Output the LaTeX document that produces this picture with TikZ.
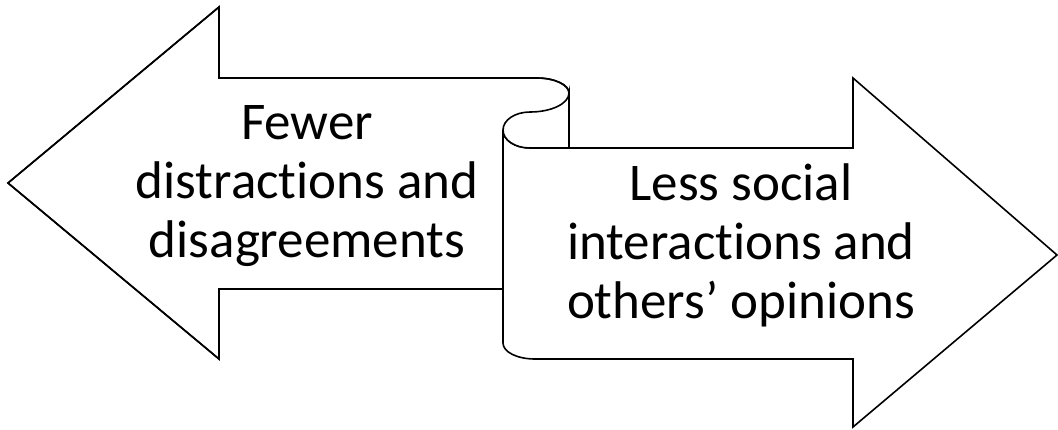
\documentclass[tikz,border=0pt]{standalone}
\usepackage{fontspec}
\setmainfont{Carlito}[Ligatures=NoCommon]
\begin{document}
\begin{tikzpicture}[x=1pt,y=-1pt,
  outline/.style={draw=black,line width=1.6pt,line join=miter},
  label/.style={align=center,inner sep=0pt,font=\fontsize{53}{59}\selectfont}]
\useasboundingbox (0,0) rectangle (1058,429);
% left arrow
\draw[outline,fill=white] (8,183) -- (219,7) -- (219,78) -- (537,78)
  .. controls (555,78) and (569,85) .. (569,93) -- (569,148) -- (503,148) -- (503,289)
  -- (219,289) -- (219,359) -- cycle;
\fill[white] (503,150) rectangle (567,288);
\draw[outline] (503,289) -- (219,289) -- (219,359) -- (8,183) -- (219,7) -- (219,78) -- (537,78)
  .. controls (555,78) and (569,85) .. (569,93) -- (569,148);
% right arrow body
\draw[outline,fill=white] (530,148) -- (853,148) -- (853,78) -- (1057,255) -- (853,427)
  -- (853,359) -- (535,359) .. controls (517,359) and (503,352) .. (503,343) -- (503,130)
  .. controls (503,140) and (515,148) .. (530,148);
% curl
\draw[outline,fill=white] (569,93) .. controls (569,103.5) and (551.5,112) .. (530,112)
  .. controls (515,112) and (503,120) .. (503,130)
  .. controls (503,140) and (515,148) .. (530,148) -- (569,148) -- cycle;
\draw[outline] (569,93) -- (569,148);
% texts
\node[label] (left) at (307,186.5) {Fewer\\distractions and\\disagreements};
\node[label] (right) at (741,245) {Less social\\interactions and\\others’ opinions};
\end{tikzpicture}
\end{document}
